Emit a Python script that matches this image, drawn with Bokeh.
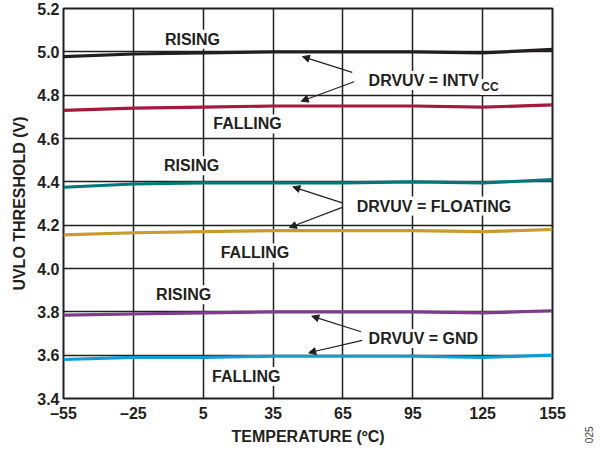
import math
from bokeh.plotting import figure
from bokeh.layouts import row
from bokeh.models import FixedTicker, Label, Arrow, NormalHead, Range1d
from bokeh.embed import file_html
from bokeh.resources import INLINE

# ---- data ----
temps = [-55, -25, 5, 35, 65, 95, 125, 155]
intv_rise = [4.978, 4.99, 4.995, 5.0, 5.0, 5.0, 4.995, 5.011]
intv_fall = [4.73, 4.74, 4.745, 4.75, 4.75, 4.75, 4.745, 4.755]
float_rise = [4.375, 4.39, 4.395, 4.395, 4.395, 4.40, 4.395, 4.41]
float_fall = [4.155, 4.165, 4.17, 4.175, 4.175, 4.175, 4.17, 4.18]
gnd_rise = [3.785, 3.79, 3.795, 3.80, 3.80, 3.80, 3.795, 3.805]
gnd_fall = [3.58, 3.59, 3.59, 3.595, 3.595, 3.595, 3.59, 3.60]

x_ticks = [-55, -25, 5, 35, 65, 95, 125, 155]
x_tick_labels = ["\u201355", "\u201325", "5", "35", "65", "95", "125", "155"]
y_ticks = [3.4, 3.6, 3.8, 4.0, 4.2, 4.4, 4.6, 4.8, 5.0, 5.2]
y_tick_labels = ["3.4", "3.6", "3.8", "4.0", "4.2", "4.4", "4.6", "4.8", "5.0", "5.2"]

series_colors = ["#231f20", "#a5193d", "#00787a", "#c99a2e", "#7d3c8e", "#0d9ed8"]
series = [intv_rise, intv_fall, float_rise, float_fall, gnd_rise, gnd_fall]

FONT = "Liberation Sans"
TXT = "#231f20"

p = figure(frame_width=489, frame_height=390, output_backend="svg", toolbar_location=None,
           x_range=Range1d(-55, 155), y_range=Range1d(3.4, 5.2),
           min_border_left=63, min_border_right=29, min_border_top=8, min_border_bottom=48)
p.background_fill_color = "white"
p.border_fill_color = "white"
p.outline_line_color = "#231f20"
p.outline_line_width = 2

p.xaxis.ticker = FixedTicker(ticks=x_ticks)
p.yaxis.ticker = FixedTicker(ticks=y_ticks)
p.xaxis.major_label_overrides = {t: l for t, l in zip(x_ticks, x_tick_labels)}
p.yaxis.major_label_overrides = {t: l for t, l in zip(y_ticks, y_tick_labels)}

for ax in (p.xaxis[0], p.yaxis[0]):
    ax.axis_line_color = None
    ax.major_tick_line_color = None
    ax.minor_tick_line_color = None
    ax.major_tick_out = 0
    ax.major_tick_in = 0
    ax.minor_tick_out = 0
    ax.minor_tick_in = 0
    ax.major_label_text_font = FONT
    ax.major_label_text_font_style = "bold"
    ax.major_label_text_font_size = "16px"
    ax.major_label_text_color = TXT
    ax.axis_label_text_font = FONT
    ax.axis_label_text_font_style = "bold"
    ax.axis_label_text_font_size = "16px"
    ax.axis_label_text_color = TXT

p.xaxis.axis_label = "TEMPERATURE (\u00baC)"
p.yaxis.axis_label = "UVLO THRESHOLD (V)"
p.xaxis.major_label_standoff = 6
p.xaxis.axis_label_standoff = 3
p.yaxis.major_label_standoff = 4
p.yaxis.axis_label_standoff = 6

p.xgrid.grid_line_color = "#231f20"
p.ygrid.grid_line_color = "#231f20"
p.xgrid.grid_line_width = 1.5
p.ygrid.grid_line_width = 1.5

for ys, c in zip(series, series_colors):
    p.line(temps, ys, line_color=c, line_width=3.2, line_join="round")

# text labels
def add_label(x, y, text, size="16px", align="center"):
    lab = Label(x=x, y=y, text=text, text_font=FONT, text_font_style="bold",
                text_font_size=size, text_color=TXT, text_align=align,
                text_baseline="middle", background_fill_color="white",
                padding=1)
    p.add_layout(lab)

state_labels = ["RISING", "FALLING", "RISING", "FALLING", "RISING", "FALLING"]
state_pos = [(0.4, 5.058), (24.0, 4.667), (0.0, 4.474), (27.2, 4.072), (-3.4, 3.879), (23.5, 3.502)]
for t, (x, y) in zip(state_labels, state_pos):
    add_label(x, y, t)

# arrows
arrows = [
    ((69.0, 4.905), (47.6, 4.978)),
    ((69.8, 4.862), (47.1, 4.772)),
    ((64.7, 4.303), (43.5, 4.377)),
    ((64.7, 4.282), (42.0, 4.189)),
    ((72.8, 3.708), (51.6, 3.780)),
    ((73.3, 3.668), (50.3, 3.611)),
]
for (x0, y0), (x1, y1) in arrows:
    p.add_layout(Arrow(x_start=x0, y_start=y0, x_end=x1, y_end=y1,
                       line_color=TXT, line_width=1.2,
                       end=NormalHead(size=7, fill_color=TXT, line_color=TXT, line_width=1)))

add_label(75.6, 4.868, "DRVUV = INTV", align="left")
lab_cc = Label(x=124.0, y=4.838, text="CC", text_font=FONT, text_font_style="bold",
               text_font_size="12px", text_color=TXT, text_align="left",
               text_baseline="middle", background_fill_color="white", padding=1)
p.add_layout(lab_cc)
add_label(70.5, 4.288, "DRVUV = FLOATING", align="left")
add_label(75.6, 3.677, "DRVUV = GND", align="left")

# small side strip carrying the figure code "025" as a vertical axis label
side = figure(width=15, height=446, output_backend="svg", toolbar_location=None,
              x_range=Range1d(0, 1), y_range=Range1d(0, 1),
              y_axis_location=None,
              min_border_left=0, min_border_right=0, min_border_top=8, min_border_bottom=48)
side.grid.visible = False
side.outline_line_color = None
side.background_fill_color = "white"
side.border_fill_color = "white"
sx = side.xaxis[0]
sx.ticker = FixedTicker(ticks=[])
sx.axis_line_color = None
sx.major_tick_out = 0
sx.major_tick_in = 0
sx.minor_tick_out = 0
sx.minor_tick_in = 0
sx.major_label_standoff = 0
sx.major_label_text_font_size = "0px"
sx.axis_label = "025"
sx.axis_label_text_font = FONT
sx.axis_label_text_font_size = "10px"
sx.axis_label_text_font_style = "normal"
sx.axis_label_text_color = "#444444"
sx.axis_label_orientation = math.pi / 2
sx.axis_label_standoff = 29

layout = row(p, side, spacing=0)
open("out.html", "w").write(file_html(layout, INLINE))
